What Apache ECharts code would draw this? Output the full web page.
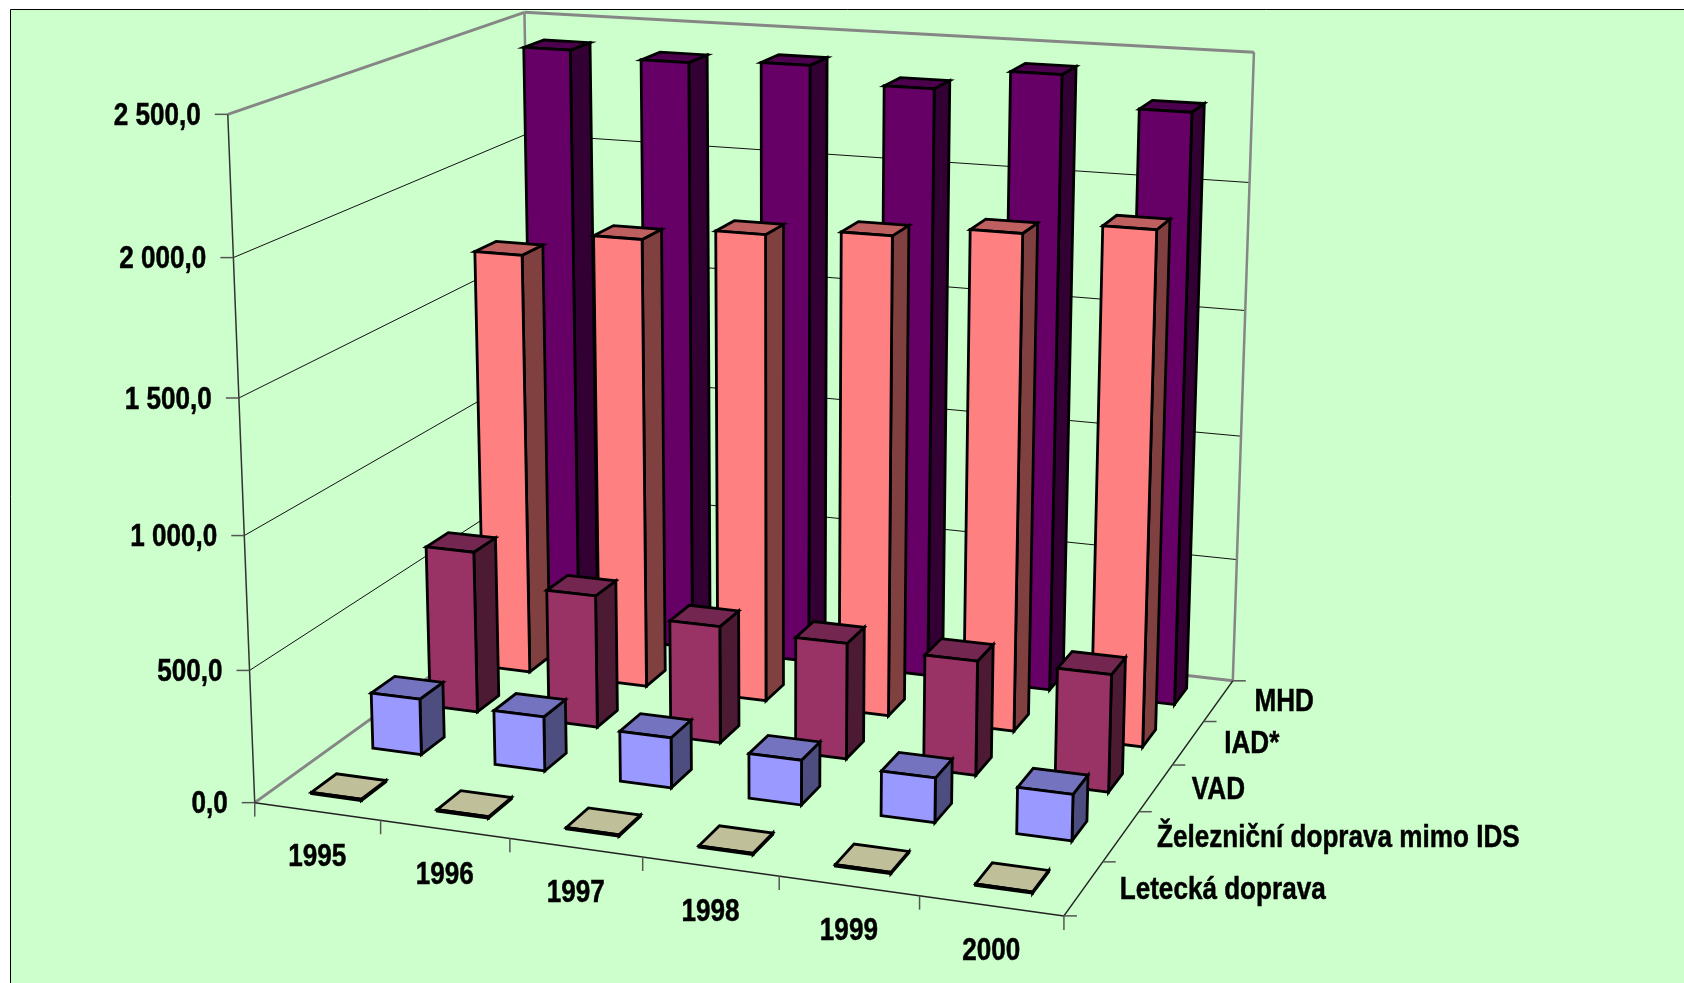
<!DOCTYPE html>
<html><head><meta charset="utf-8">
<style>html,body{margin:0;padding:0;background:#fff}#c{width:1684px;height:983px}</style>
<script src="https://cdn.jsdelivr.net/npm/echarts@6/dist/echarts.min.js"></script>
</head><body><div id="c"></div>
<script>
const YEARS = ['1995','1996','1997','1998','1999','2000'];
const ROW_NAMES = ['Letecká doprava','Železniční doprava mimo IDS','VAD','IAD*','MHD'];
const VALUE_TICKS = [0,500,1000,1500,2000,2500];
const VALUE_LABELS = ['0,0','500,0','1 000,0','1 500,0','2 000,0','2 500,0'];
const LETECKA = [5,5,5,5,5,5];
const ZELEZNICNI = [218,210,192,170,168,172];
const VAD = [642,523,458,450,440,448];
const IAD = [1694,1793,1848,1880,1925,1975];
const MHD = [2417,2395,2412,2350,2433,2320];
const ROW_VALUES = [LETECKA,ZELEZNICNI,VAD,IAD,MHD];
const FRONT = ['#FFFFCC','#9999FF','#993366','#FF8080','#660066'];
const SIDE  = ['#80806A','#4D4D80','#4D1A33','#804040','#330033'];
const TOP   = ['#BFBF99','#7373BF','#732650','#BF6060','#4D004D'];
const BAR_FRACTION = 0.4;

// Camera calibration: unit-cube (year, value, depth) to page pixels, from the plot box corners and ticks.
const CALIB = [
 [0,0,0,254.6,802.5],[1,0,0,1063,915.5],[1,0,1,1231.8,680],[0,1,0,227.7,114],[0,1,1,524.2,12.3],[1,1,1,1254.3,52],
 [0,.8,0,233.8,257.7],[0,.2,0,249.7,670.7],[1,.8,1,1249.1,183],
 [1/6,0,0,380.6,820.7],[2/6,0,0,510,838.3],[3/6,0,0,642.8,856.7],[4/6,0,0,779,875.3],[5/6,0,0,918.7,896.7],
 [1,0,.2,1103,861.7],[1,0,.4,1139.6,811.7],[1,0,.6,1173.6,765],[1,0,.8,1203.9,722.3]
];
function solveCamera(pts){
  const n=11, M=[...Array(n)].map(()=>Array(n+1).fill(0));
  const add=(r,b)=>{for(let i=0;i<n;i++){for(let j=0;j<n;j++)M[i][j]+=r[i]*r[j];M[i][n]+=r[i]*b;}};
  pts.forEach(([X,Y,Z,u,v])=>{u/=1000;v/=1000;
    add([X,Y,Z,1,0,0,0,0,-u*X,-u*Y,-u*Z],u);
    add([0,0,0,0,X,Y,Z,1,-v*X,-v*Y,-v*Z],v);});
  for(let i=0;i<n;i++){let p=i;for(let k=i+1;k<n;k++)if(Math.abs(M[k][i])>Math.abs(M[p][i]))p=k;
    [M[i],M[p]]=[M[p],M[i]];
    for(let k=0;k<n;k++){if(k===i)continue;const f=M[k][i]/M[i][i];for(let j=i;j<=n;j++)M[k][j]-=f*M[i][j];}}
  return M.map((r,i)=>r[n]/r[i]);
}
const P=solveCamera(CALIB);
function proj(x,y,z){const w=P[8]*x+P[9]*y+P[10]*z+1;
  return [1000*(P[0]*x+P[1]*y+P[2]*z+P[3])/w,1000*(P[4]*x+P[5]*y+P[6]*z+P[7])/w];}

const FONT='"Liberation Sans",Arial,sans-serif';
function unit(api,params,cat,val){const c=api.coord([cat,val]),s=params.coordSys;
  return [(c[0]-s.x)/s.width,(s.y+s.height-c[1])/s.height];}
function poly(pts,fill,stroke,lw){return {type:'polygon',shape:{points:pts},style:{fill:fill,stroke:stroke,lineWidth:lw,lineJoin:'miter'}};}
function line(a,b,color,lw){return {type:'line',shape:{x1:a[0],y1:a[1],x2:b[0],y2:b[1]},style:{stroke:color,lineWidth:lw,fill:null}};}
function label(text,x,y,align){return {type:'text',x:x,y:y+2,scaleX:0.842,style:{text:text,x:0,y:0,align:align,verticalAlign:'middle',font:'bold 31px '+FONT,fill:'#000',stroke:'#000',lineWidth:0.5}};}

function renderFrame(params,api){
  const kids=[], G='#868686', K='#222';
  const hOf=v=>unit(api,params,0,v)[1];
  VALUE_TICKS.slice(1,-1).forEach(v=>{const h=hOf(v);
    kids.push(line(proj(0,h,0),proj(0,h,1),'#111',1),line(proj(0,h,1),proj(1,h,1),'#111',1));});
  kids.push(line(proj(0,1,0),proj(0,1,1),G,3),line(proj(0,1,1),proj(1,1,1),G,3));
  kids.push(line(proj(0,0,1),proj(0,1,1),G,2.5),line(proj(1,0,1),proj(1,1,1),G,2.5));
  kids.push(line(proj(0,0,0),proj(0,0,1),G,3),line(proj(0,0,1),proj(1,0,1),G,3));
  kids.push(line(proj(0,0,0),proj(0,1,0),'#333',1.5),line(proj(0,0,0),proj(1,0,0),K,1.5),line(proj(1,0,0),proj(1,0,1),K,1.5));
  VALUE_TICKS.forEach(v=>{const p=proj(0,hOf(v),0);kids.push(line([p[0]-13,p[1]],p,'#555',1.5));});
  for(let k=0;k<=YEARS.length;k++){const p=proj(k/YEARS.length,0,0);kids.push(line(p,[p[0],p[1]+14],'#555',1.5));}
  for(let k=0;k<=ROW_NAMES.length;k++){const p=proj(1,0,k/ROW_NAMES.length);kids.push(line(p,[p[0]+13,p[1]],'#555',1.5));}
  return {type:'group',children:kids};
}
function renderRow(row){return function(params,api){
  const cat=api.value(0),val=api.value(1),band=api.size([1,0])[0]/params.coordSys.width;
  const [cx,h]=unit(api,params,cat,val);
  const x0=cx-band*BAR_FRACTION/2,x1=cx+band*BAR_FRACTION/2;
  const n=ROW_NAMES.length,z0=(row+.5-BAR_FRACTION/2)/n,z1=(row+.5+BAR_FRACTION/2)/n;
  const lw=2.8;
  return {type:'group',children:[
    poly([proj(x1,0,z0),proj(x1,0,z1),proj(x1,h,z1),proj(x1,h,z0)],SIDE[row],'#000',lw),
    poly([proj(x0,h,z0),proj(x1,h,z0),proj(x1,h,z1),proj(x0,h,z1)],TOP[row],'#000',lw),
    poly([proj(x0,0,z0),proj(x1,0,z0),proj(x1,h,z0),proj(x0,h,z0)],FRONT[row],'#000',lw)
  ]};
};}
function renderLabels(params,api){
  const kids=[];
  VALUE_TICKS.forEach((v,i)=>{const p=proj(0,unit(api,params,0,v)[1],0);kids.push(label(VALUE_LABELS[i],p[0]-27,p[1],'right'));});
  YEARS.forEach((y,i)=>{const p=proj((i+.5)/YEARS.length,0,0);kids.push(label(y,p[0],p[1]+44,'center'));});
  ROW_NAMES.forEach((t,i)=>{const p=proj(1,0,(i+.5)/ROW_NAMES.length);kids.push(label(t,p[0]+36,p[1],'left'));});
  return {type:'group',children:kids};
}
const series=[{type:'custom',name:'frame',silent:true,renderItem:renderFrame,data:[[0,0]],encode:{x:0,y:1},clip:false}];
for(let r=ROW_NAMES.length-1;r>=0;r--){
  series.push({type:'custom',name:ROW_NAMES[r],silent:true,renderItem:renderRow(r),
    data:YEARS.map((y,i)=>[i,ROW_VALUES[r][i]]),encode:{x:0,y:1},clip:false});
}
series.push({type:'custom',name:'labels',silent:true,renderItem:renderLabels,data:[[0,0]],encode:{x:0,y:1},clip:false});
const chart=echarts.init(document.getElementById('c'),null,{renderer:'canvas',width:1684,height:983});
chart.setOption({
  animation:false,backgroundColor:'#fff',
  graphic:[{type:'rect',z:0,silent:true,shape:{x:10.5,y:9.5,width:1800,height:1100},style:{fill:'#CCFFCC',stroke:'#000',lineWidth:1}}],
  grid:{left:0,top:0,width:1000,height:900,containLabel:false},
  xAxis:{type:'category',data:YEARS,show:false},
  yAxis:{type:'value',min:0,max:2500,interval:500,show:false},
  series:series
});
</script></body></html>
